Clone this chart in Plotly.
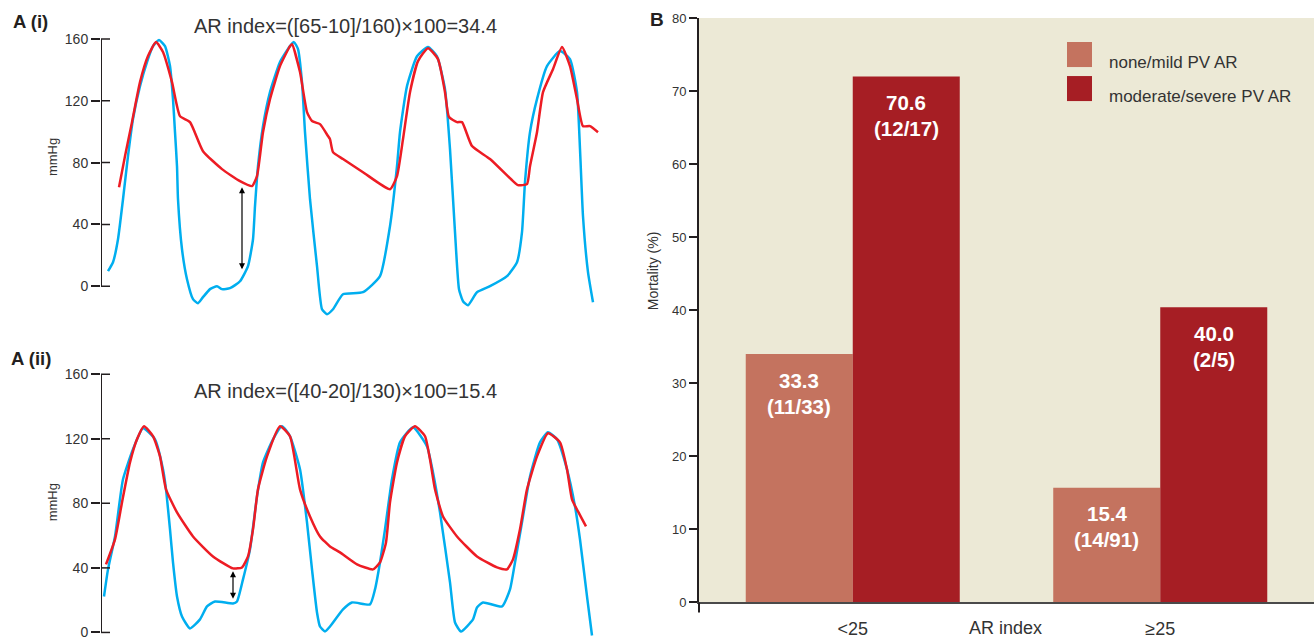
import plotly.graph_objects as go

W, H = 1314, 644

# ---------------- Panel A(i) waveforms (time in arbitrary units, pressure mmHg) ----------------
t_blue_i = [7, 12, 17, 22, 27, 32, 39, 46, 52, 58, 64, 69, 72, 74, 76, 77, 81, 86, 92, 97, 102, 109, 116, 121, 129,
            139, 147, 152, 154, 157, 162, 169, 179, 189, 193, 197, 201, 204, 209, 216, 221, 226, 232, 242, 262, 279,
            289, 296, 299, 306, 316, 327, 336, 344, 349, 354, 358, 362, 367, 376, 389, 406, 416, 421, 424, 429, 436,
            446, 459, 469, 476, 479, 482, 487, 492]
p_blue_i = [9.7, 15.5, 30.4, 56.3, 84.2, 108.2, 129.5, 145.1, 155.4, 159.3, 155.4, 142.5, 121.1, 99.7, 77.7, 56.3,
            23.9, 4.5, -8.4, -11.0, -7.1, -1.9, 0.0, -1.9, -1.3, 3.2, 13.0, 30.4, 51.8, 77.7, 103.6, 125.6, 145.1,
            155.4, 158.0, 153.5, 132.1, 99.7, 56.3, 13.0, -14.9, -18.1, -14.9, -5.2, -3.9, 6.5, 38.9, 77.7, 99.7,
            129.5, 148.8, 154.8, 148.8, 127.6, 88.7, 35.0, -1.9, -9.7, -12.3, -3.9, 0.0, 6.5, 15.5, 35.0, 67.4, 99.7,
            121.1, 142.5, 152.2, 147.0, 125.6, 88.7, 45.3, 9.1, -10.4]
t_red_i = [18, 24, 31, 39, 47, 55, 62, 71, 79, 89, 102, 121, 139, 151, 156, 162, 169, 179, 189, 191, 199, 206, 211,
           219, 227, 229, 232, 242, 262, 289, 296, 302, 309, 317, 327, 337, 344, 348, 356, 361, 371, 389, 412, 417,
           426, 429, 436, 442, 452, 461, 469, 476, 482, 489, 497]
p_red_i = [64.1, 84.2, 106.2, 132.1, 149.0, 158.0, 151.6, 132.1, 110.1, 106.2, 87.4, 75.8, 68.0, 64.8, 71.3, 99.7,
           121.1, 142.5, 155.4, 156.7, 138.6, 112.7, 106.9, 104.9, 97.2, 95.2, 86.8, 82.3, 73.8, 62.8, 71.3, 95.2,
           125.6, 145.7, 154.1, 147.0, 125.6, 109.5, 106.2, 106.2, 90.7, 82.3, 68.0, 65.4, 66.1, 77.7, 99.7, 125.6,
           140.5, 154.8, 142.5, 121.1, 103.6, 103.6, 99.7]
arrow_i_t = 141
arrow_i_range = [10, 64]

# ---------------- Panel A(ii) waveforms ----------------
t_blue_ii = [3, 7, 14, 22, 32, 42, 54, 62, 65, 69, 72, 76, 81, 89, 99, 106, 114, 132, 136, 142, 149, 156, 162, 172,
             181, 189, 199, 206, 211, 216, 219, 224, 229, 242, 251, 269, 274, 279, 284, 291, 299, 312, 326, 332, 339,
             349, 354, 360, 372, 376, 382, 401, 409, 414, 421, 429, 439, 447, 456, 466, 474, 479, 486, 491]
p_blue_ii = [22.3, 39.1, 59.5, 94.9, 113.5, 126.5, 119.7, 101.1, 88.7, 63.9, 43.4, 22.3, 9.9, 2.5, 8.1, 16.1, 19.2,
             18.0, 19.2, 32.9, 51.5, 84.3, 105.4, 119.7, 127.8, 121.6, 101.1, 68.2, 39.1, 12.4, 3.7, 0.6, 3.7, 14.3,
             18.6, 17.4, 26.7, 43.4, 63.9, 94.9, 117.8, 127.1, 115.3, 99.2, 74.4, 31.0, 6.2, 0.6, 8.1, 15.5, 18.6,
             16.1, 26.7, 43.4, 68.2, 96.7, 117.8, 124.0, 119.7, 101.1, 78.1, 57.7, 22.3, -1.9]
t_red_ii = [5, 14, 21, 29, 36, 43, 52, 59, 65, 76, 92, 112, 132, 141, 147, 152, 157, 166, 179, 189, 199, 209, 219,
            229, 239, 256, 272, 279, 285, 289, 296, 304, 314, 324, 329, 334, 342, 356, 376, 396, 406, 412, 419, 426,
            436, 447, 459, 466, 471, 477, 485]
p_red_ii = [42.2, 57.7, 80.6, 105.4, 119.7, 127.8, 121.6, 109.1, 88.7, 74.4, 59.5, 47.1, 39.7, 40.3, 47.1, 63.9,
            88.7, 109.1, 127.8, 121.6, 88.7, 71.9, 59.5, 53.3, 49.6, 42.2, 39.1, 43.4, 55.8, 80.6, 105.4, 121.6,
            127.8, 121.6, 107.3, 88.7, 71.9, 59.5, 47.1, 40.3, 39.1, 45.3, 63.9, 88.7, 109.1, 123.4, 117.8, 101.1,
            82.5, 75.0, 65.7]
arrow_ii_t = 132
arrow_ii_range = [20, 38]

pressure_ticks = [0, 40, 80, 120, 160]

# ---------------- Panel B bars ----------------
categories = ["<25", "≥25"]
none_mild = [34.0, 15.7]
mod_severe = [72.0, 40.4]
none_mild_pct = ["33.3", "15.4"]
none_mild_n = ["(11/33)", "(14/91)"]
mod_severe_pct = ["70.6", "40.0"]
mod_severe_n = ["(12/17)", "(2/5)"]
series_names = ["none/mild PV AR", "moderate/severe PV AR"]
mortality_ticks = [0, 10, 20, 30, 40, 50, 60, 70, 80]

BLUE = "#00AEEF"
RED = "#ED1C24"
LIGHT = "#C4735F"
DARK = "#A61E24"
CREAM = "#ECE9D6"
INK = "#231F20"
TXT = "#333333"
SANS = "Liberation Sans, Arial, sans-serif"

# the page is photographed with a slight vertical squeeze; place things by reference pixel
VS, VOFF = 0.976, 8.0

def px_x(p):
    return p / W

def ry(p):
    return 1 - ((p - VOFF) / VS) / H

fig = go.Figure()

line_kw = dict(shape="spline", smoothing=0.5, width=2.5)
fig.add_trace(go.Scatter(x=t_blue_i, y=p_blue_i, mode="lines", line=dict(color=BLUE, **line_kw),
                         xaxis="x", yaxis="y", showlegend=False, hoverinfo="skip"))
fig.add_trace(go.Scatter(x=t_red_i, y=p_red_i, mode="lines", line=dict(color=RED, **line_kw),
                         xaxis="x", yaxis="y", showlegend=False, hoverinfo="skip"))
fig.add_trace(go.Scatter(x=t_blue_ii, y=p_blue_ii, mode="lines", line=dict(color=BLUE, **line_kw),
                         xaxis="x2", yaxis="y2", showlegend=False, hoverinfo="skip"))
fig.add_trace(go.Scatter(x=t_red_ii, y=p_red_ii, mode="lines", line=dict(color=RED, **line_kw),
                         xaxis="x2", yaxis="y2", showlegend=False, hoverinfo="skip"))

fig.add_trace(go.Bar(x=categories, y=none_mild, name=series_names[0], marker=dict(color=LIGHT, line=dict(width=0)),
                     xaxis="x3", yaxis="y3", showlegend=False))
fig.add_trace(go.Bar(x=categories, y=mod_severe, name=series_names[1], marker=dict(color=DARK, line=dict(width=0)),
                     xaxis="x3", yaxis="y3", showlegend=False))

BARGAP = 0.304
half = (1 - BARGAP) / 4

yax_common = dict(showgrid=False, zeroline=False, showline=False, ticks="outside", ticklen=9, tickwidth=1.5,
                  tickcolor=INK, tickvals=pressure_ticks, tickfont=dict(family=SANS, size=14, color=TXT),
                  fixedrange=True)

# A(i): 0 mmHg at ref px 287, 160 mmHg at ref px 40
sc1 = (287 - 40) / 160.0
# A(ii): 0 mmHg at ref px 633, 160 mmHg at ref px 375
sc2 = (633 - 375) / 160.0
bot2 = VOFF + VS * H  # lowest visible reference pixel

fig.update_layout(
    width=W, height=H, autosize=False,
    margin=dict(l=0, r=0, t=0, b=0),
    paper_bgcolor="white", plot_bgcolor="rgba(0,0,0,0)",
    barmode="group", bargap=BARGAP, bargroupgap=0,
    xaxis=dict(domain=[px_x(101), px_x(621)], range=[0, 520], visible=False, anchor="y"),
    yaxis=dict(domain=[ry(322), ry(30)], range=[(287 - 322) / sc1, (287 - 30) / sc1], anchor="x", **yax_common),
    xaxis2=dict(domain=[px_x(101), px_x(621)], range=[0, 520], visible=False, anchor="y2"),
    yaxis2=dict(domain=[ry(bot2), ry(355)], range=[(633 - bot2) / sc2, (633 - 355) / sc2], anchor="x2",
                **yax_common),
    xaxis3=dict(domain=[px_x(699), 1], range=[-0.5, 1.5], type="category", anchor="y3",
                showline=True, linecolor="#4a4a4a", linewidth=2, ticks="", showgrid=False, zeroline=False,
                tickfont=dict(family=SANS, size=18, color=TXT), ticklabelstandoff=9),
    yaxis3=dict(domain=[ry(603), ry(19)], range=[0, 80], anchor="x3", tickvals=mortality_ticks,
                showline=True, linecolor=INK, linewidth=2, ticks="outside", ticklen=8, tickwidth=1.5,
                tickcolor=INK, showgrid=False, zeroline=False,
                tickfont=dict(family=SANS, size=13, color=TXT)),
)

shapes = []
shapes.append(dict(type="rect", xref="x3 domain", yref="y3 domain", x0=0, x1=1, y0=0, y1=1,
                   fillcolor=CREAM, line=dict(width=0), layer="below"))
shapes.append(dict(type="line", xref="x3 domain", yref="paper", x0=0, x1=0, y0=ry(603), y1=ry(613),
                   line=dict(color=INK, width=2)))
for xr, yr in (("x", "y"), ("x2", "y2")):
    shapes.append(dict(type="line", xref=xr, yref=yr, x0=0, x1=0, y0=pressure_ticks[0], y1=pressure_ticks[-1],
                       line=dict(color=INK, width=2)))
    for v in pressure_ticks:
        shapes.append(dict(type="line", xref=xr, yref=yr, x0=0, x1=9, y0=v, y1=v,
                           line=dict(color=INK, width=1.5)))
for i, col in enumerate([LIGHT, DARK]):
    top = 43 + 34 * i
    shapes.append(dict(type="rect", xref="paper", yref="paper", x0=px_x(1067), x1=px_x(1092),
                       y0=ry(top + 25), y1=ry(top), fillcolor=col, line=dict(width=0)))

ann = []
def txt(x, y, s, size, color=TXT, xanchor="left", weight="normal", angle=0):
    ann.append(dict(x=px_x(x), y=ry(y), xref="paper", yref="paper", text=s, showarrow=False,
                    xanchor=xanchor, yanchor="middle", textangle=angle,
                    font=dict(family=SANS, size=size, color=color, weight=weight)))

txt(11, 22, "A (i)", 18.5, color=INK, weight="bold")
txt(192, 27, "AR index=([65-10]/160)×100=34.4", 20)
txt(9, 359, "A (ii)", 18.5, color=INK, weight="bold")
txt(192, 392, "AR index=([40-20]/130)×100=15.4", 20)
txt(52, 158, "mmHg", 13, xanchor="center", angle=-90)
txt(52, 503, "mmHg", 13, xanchor="center", angle=-90)
txt(648, 20, "B", 19, color=INK, weight="bold")
txt(653, 272, "Mortality (%)", 14, xanchor="center", angle=-90)
txt(1005, 629, "AR index", 18, xanchor="center")
txt(1107, 63, series_names[0], 17)
txt(1107, 97, series_names[1], 17)

for vals, pct, cnt, off in ((none_mild, none_mild_pct, none_mild_n, -half),
                            (mod_severe, mod_severe_pct, mod_severe_n, half)):
    for j, v in enumerate(vals):
        for s, shift in ((pct[j], -26), (cnt[j], -52)):
            ann.append(dict(x=j + off, y=v, xref="x3", yref="y3", text=s, showarrow=False,
                            xanchor="center", yanchor="middle", yshift=shift,
                            font=dict(family=SANS, size=20.5, color="white", weight="bold")))

for xr, yr, t, rng in (("x", "y", arrow_i_t, arrow_i_range), ("x2", "y2", arrow_ii_t, arrow_ii_range)):
    ann.append(dict(x=t, y=rng[1], ax=t, ay=rng[0], xref=xr, yref=yr, axref=xr, ayref=yr, text="",
                    showarrow=True, arrowhead=2, startarrowhead=2, arrowside="end+start",
                    arrowsize=1, arrowwidth=1.2, arrowcolor="black", standoff=0, startstandoff=0))

fig.update_layout(shapes=shapes, annotations=ann)
fig.write_html("out.html", config={"displayModeBar": False},
               post_script="document.body.style.margin='0';document.body.style.padding='0';"
                           "document.body.style.overflow='hidden';")
